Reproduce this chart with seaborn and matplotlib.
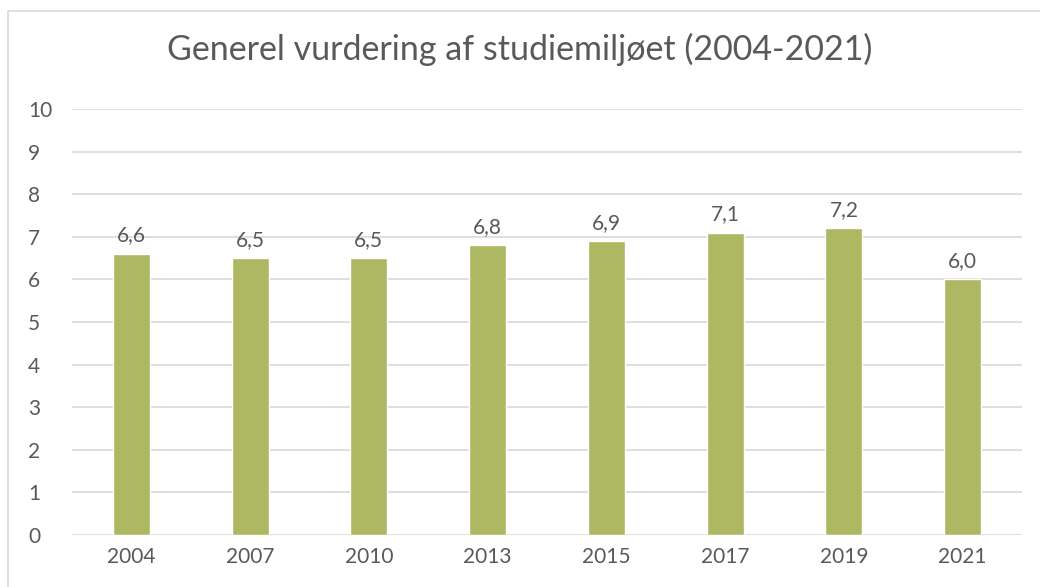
import seaborn as sns
import matplotlib.pyplot as plt
from matplotlib.patches import Rectangle

years = ['2004', '2007', '2010', '2013', '2015', '2017', '2019', '2021']
scores = [6.6, 6.5, 6.5, 6.8, 6.9, 7.1, 7.2, 6.0]
y_ticks = list(range(0, 11))

text_color = '#595959'
bar_color = '#AEB862'
grid_color = '#D9D9D9'

sns.set_style('white')
plt.rcParams['font.family'] = ['Lato', 'DejaVu Sans']

fig = plt.figure(figsize=(10.4, 5.87), dpi=100)
ax = fig.add_axes([0.0692, 0.0886, 0.9135, 0.7257])

sns.barplot(x=years, y=scores, color=bar_color, width=0.31, saturation=1, ax=ax, zorder=3)

# value labels with decimal comma
for c in ax.containers:
    ax.bar_label(c, labels=[f'{v:.1f}'.replace('.', ',') for v in scores],
                 padding=6, fontsize=15, color=text_color)

ax.set_ylim(0, 10)
ax.set_yticks(y_ticks)
ax.set_xlim(-0.5, len(years) - 0.5)
ax.yaxis.grid(True, color=grid_color, linewidth=1.2, zorder=0)
ax.set_axisbelow(True)
for s in ax.spines.values():
    s.set_visible(False)
ax.tick_params(axis='both', length=0, labelsize=15, labelcolor=text_color)
ax.tick_params(axis='y', pad=31.5)
ax.tick_params(axis='x', pad=9)
for lbl in ax.get_yticklabels():
    lbl.set_horizontalalignment('left')
ax.set_xlabel('')
ax.set_ylabel('')

fig.text(0.5, 0.915, 'Generel vurdering af studiemiljøet (2004-2021)',
         ha='center', va='center', fontsize=24.5, color=text_color)

# outer chart frame (only left and top edges visible)
fig.patches.append(Rectangle((8 / 1040, -0.1), 1.2, 1.1 - 11 / 587,
                             transform=fig.transFigure, fill=False,
                             edgecolor=grid_color, linewidth=1.2))

fig.savefig('out.png', dpi=100)
